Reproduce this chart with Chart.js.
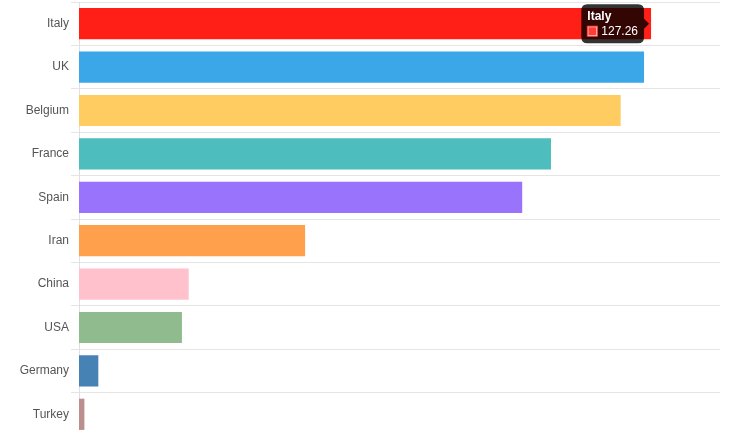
<!DOCTYPE html>
<html>
<head>
<meta charset="utf-8">
<script src="https://cdn.jsdelivr.net/npm/chart.js@4/dist/chart.umd.min.js"></script>
<style>
  html, body { margin: 0; padding: 0; background: #fff; overflow: hidden; }
  #wrap { position: relative; width: 750px; height: 440px; }
</style>
</head>
<body>
<div id="wrap"><canvas id="chart"></canvas></div>
<script>
// Countries, sorted by value
const countries = ['Italy', 'UK', 'Belgium', 'France', 'Spain', 'Iran', 'China', 'USA', 'Germany', 'Turkey'];
const values = [127.26, 125.7, 120.5, 105.0, 98.6, 50.3, 24.4, 22.9, 4.3, 1.2];
const barColors = ['#ff3d36', '#3ba6e8', '#ffcc62', '#4dbdbd', '#9a73fd', '#ffa04d', '#ffc2cd', '#8fbb8f', '#4682b4', '#bc8f8f'];

Chart.defaults.font.family = '"Liberation Sans", Arial, Helvetica, sans-serif';
Chart.defaults.font.size = 12;
Chart.defaults.color = '#666';

const chart = new Chart(document.getElementById('chart'), {
  type: 'bar',
  data: {
    labels: countries,
    datasets: [{
      label: 'Value',
      data: values,
      backgroundColor: barColors,
      borderColor: barColors,
      borderWidth: 0
    }]
  },
  options: {
    indexAxis: 'y',
    responsive: true,
    maintainAspectRatio: false,
    animation: false,
    layout: { padding: { top: 2, right: 30, bottom: 4, left: 0 } },
    plugins: {
      legend: { display: false },
      tooltip: {
        enabled: true,
        backgroundColor: 'rgba(0,0,0,0.8)',
        titleFont: { weight: 'bold', size: 12, lineHeight: 1 },
        bodyFont: { size: 12, lineHeight: 1 },
        titleMarginBottom: 3,
        padding: 6,
        cornerRadius: 6,
        caretSize: 5,
        boxWidth: 10,
        boxHeight: 10,
        boxPadding: 2,
        callbacks: {
          label: (ctx) => ctx.parsed.x.toFixed(2)
        }
      }
    },
    scales: {
      x: {
        display: false,
        min: 0,
        max: 142.6
      },
      y: {
        afterFit: (scale) => {
          scale.width = 79;
          // categories are offset, so no extra room is needed for the end labels
          scale.paddingTop = 0;
          scale.paddingBottom = 0;
        },
        ticks: { color: '#555', font: { size: 12 }, padding: 2 },
        grid: { color: 'rgba(0,0,0,0.1)', tickLength: 8 },
        border: { color: 'rgba(0,0,0,0.12)' }
      }
    }
  }
});

// Show the tooltip for the leading country
const el = chart.getDatasetMeta(0).data[0];
chart.tooltip.setActiveElements([{ datasetIndex: 0, index: 0 }], { x: el.x, y: el.y });
chart.setActiveElements([{ datasetIndex: 0, index: 0 }]);
chart.update();
</script>
</body>
</html>
